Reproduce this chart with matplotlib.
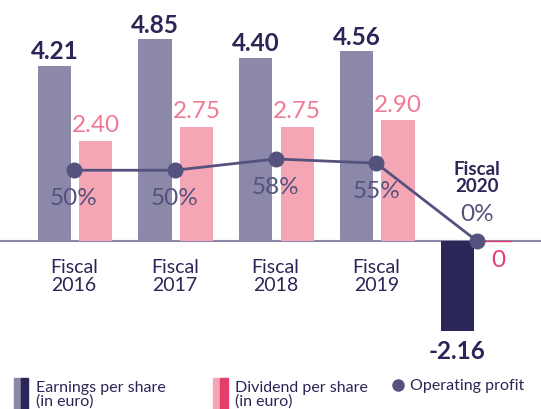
import matplotlib.pyplot as plt
from matplotlib.patches import Rectangle
from matplotlib.lines import Line2D
import numpy as np

plt.rcParams['font.family'] = ['Lato', 'DejaVu Sans']

years = ['2016', '2017', '2018', '2019', '2020']
eps = [4.21, 4.85, 4.40, 4.56, -2.16]
dividend = [2.40, 2.75, 2.75, 2.90, 0.0]
payout = [50, 50, 58, 55, 0]

c_eps = '#8B88A9'
c_eps_dark = '#2A2657'
c_div = '#F5A6B5'
c_div_txt = '#F07A94'
c_div_dark = '#E73C6E'
c_line = '#55527E'
c_text = '#2A2657'

W, H = 541, 410
fig = plt.figure(figsize=(W / 100, H / 100), dpi=100)
ax = fig.add_axes([0, 0, 1, 1])

px_x = 100.75   # pixels per group
x0 = 74         # pixel x of first group
base = 242      # pixel y of zero line
px_y = 41.6     # pixels per euro
px_p = 1.415    # pixels per percent

ax.set_xlim(-x0 / px_x, (W - x0) / px_x)
ax.set_ylim(-(H - base) / px_y, base / px_y)
ax.axis('off')

x = np.arange(len(years))
bw = 0.33
off_e, off_d = -0.195, 0.215

eps_colors = [c_eps] * 4 + [c_eps_dark]
ax.bar(x + off_e, eps, bw, color=eps_colors, zorder=2)
ax.bar(x[:4] + off_d, dividend[:4], bw, color=c_div, zorder=2)
ax.bar(x[4:] + off_d - 0.02, dividend[4:], 0.28, color=c_div_dark,
       edgecolor=c_div_dark, linewidth=1.0, zorder=3)

ax.axhline(0, color=c_eps, lw=1.5, zorder=1)

for i, v in enumerate(eps):
    if v >= 0:
        ax.annotate(f'{v:.2f}', (x[i] + off_e, v), xytext=(0, 5.5), textcoords='offset points',
                    ha='center', va='baseline', fontsize=17.5, fontweight='bold', color=c_text)
    else:
        ax.annotate(f'{v:.2f}', (x[i] + off_e, v), xytext=(0, -6), textcoords='offset points',
                    ha='center', va='top', fontsize=17.5, fontweight='bold', color=c_text)

for i, v in enumerate(dividend):
    if v > 0:
        ax.annotate(f'{v:.2f}', (x[i] + off_d, v), xytext=(0, 7), textcoords='offset points',
                    ha='center', va='baseline', fontsize=17.5, color=c_div_txt)
    else:
        ax.annotate(f'{v:.0f}', (x[i] + off_d, v), xytext=(0, -6), textcoords='offset points',
                    ha='center', va='top', fontsize=17.5, color=c_div_dark)

for i in range(4):
    ax.annotate(f'Fiscal\n{years[i]}', (x[i], 0), xytext=(0, -25), textcoords='offset points',
                ha='center', va='center', fontsize=14, color=c_text, linespacing=1.05)
ax.annotate(f'Fiscal\n{years[4]}', (x[4], 0), xytext=(0, 46), textcoords='offset points',
            ha='center', va='center', fontsize=13.5, fontweight='bold', color=c_text,
            linespacing=1.05)

ax2 = ax.twinx()
ax2.set_ylim(-(H - base) / px_p, base / px_p)
ax2.axis('off')
ax2.plot(x, payout, color=c_line, lw=2, marker='o', ms=10.5, zorder=4)
for i, p in enumerate(payout):
    dy = -19.5 if i < 4 else 19.5
    ax2.annotate(f'{p}%', (x[i], p), xytext=(0, dy), textcoords='offset points',
                 ha='center', va='center', fontsize=17.5, color=c_line)

# legend
def fx(p):
    return p / W

def fy(p):
    return 1 - p / H

fig.add_artist(Rectangle((fx(14), fy(410)), fx(7), 31 / H, color=c_eps, transform=fig.transFigure))
fig.add_artist(Rectangle((fx(21), fy(410)), fx(7), 31 / H, color=c_eps_dark, transform=fig.transFigure))
fig.text(fx(36), fy(395), 'Earnings per share\n(in euro)', ha='left', va='center',
         fontsize=11.5, color=c_text, linespacing=1.0)
fig.add_artist(Rectangle((fx(213), fy(410)), fx(7), 31 / H, color=c_div, transform=fig.transFigure))
fig.add_artist(Rectangle((fx(220), fy(410)), fx(8), 31 / H, color=c_div_dark, transform=fig.transFigure))
fig.text(fx(235), fy(395), 'Dividend per share\n(in euro)', ha='left', va='center',
         fontsize=11.5, color=c_text, linespacing=1.0)
fig.add_artist(Line2D([fx(398)], [fy(386)], marker='o', ms=8, color=c_line, transform=fig.transFigure))
fig.text(fx(410), fy(386), 'Operating profit', ha='left', va='center',
         fontsize=11.5, color=c_text)

fig.savefig('out.png', dpi=100)
